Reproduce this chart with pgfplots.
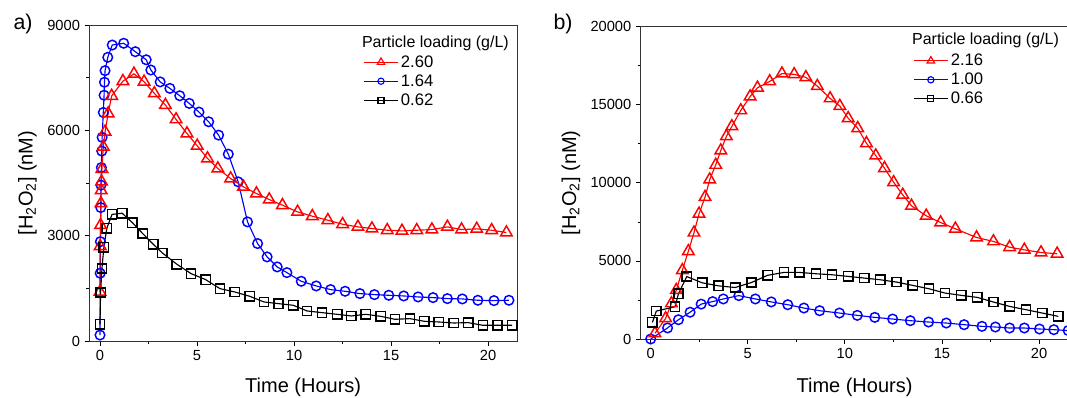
\documentclass[border=0pt]{standalone}
\usepackage{fontspec}
\setmainfont{Liberation Sans}
\usepackage{pgfplots}
\pgfplotsset{compat=1.18}
\pgfplotsset{
  panel/.style={
    scale only axis, anchor=south west,
    tick align=outside, xtick pos=left, ytick pos=left,
    minor x tick num=1, minor y tick num=1,
    major tick length=3.5pt, minor tick length=2.2pt,
    every tick/.style={black, line width=0.6pt},
    axis line style={line width=0.7pt, black!80},
    ticklabel style={font=\fontsize{11}{13}\selectfont},
    /pgf/number format/assume math mode=true,
    /pgf/number format/1000 sep={},
    scaled y ticks=false,
    xlabel style={font=\fontsize{15}{18}\selectfont},
    ylabel style={font=\fontsize{15}{18}\selectfont},
    xtick={0,5,10,15,20},
    legend style={draw=none, fill=none, font=\fontsize{12.5}{14.6}\selectfont,
      inner sep=0pt, row sep=0pt, cells={anchor=west}},
    legend cell align=left,
    legend image code/.code={\draw[mark repeat=2,mark phase=2,#1,mark options={scale=0.65}] plot coordinates {(0pt,0pt) (12.5pt,0pt) (25pt,0pt)};},
  },
  rser/.style={red, line width=0.85pt, mark=triangle, mark size=5pt, mark options={line width=1.1pt, fill=none}},
  bser/.style={blue, line width=0.85pt, mark=o, mark size=3.6pt, mark options={line width=1.1pt}},
  kser/.style={black, line width=0.85pt, mark=square, mark size=3.5pt, mark options={line width=1.1pt}},
}
\begin{document}
\begin{tikzpicture}
\path[use as bounding box] (0,0) rectangle (800.25pt,297.75pt);
\node[font=\fontsize{16}{18}\selectfont] at (17.25pt,280pt) {a)};
\node[font=\fontsize{16}{18}\selectfont] at (422.3pt,280pt) {b)};
% ---------------- panel a
\begin{axis}[panel, at={(67pt,42pt)}, width=320.8pt, height=237pt,
  xmin=-0.55, xmax=21.49, ymin=0, ymax=9000, ytick={0,3000,6000,9000},
  xlabel={Time (Hours)}, ylabel={[H\textsubscript{2}O\textsubscript{2}] (nM)},
  xlabel style={at={(axis description cs:0.5,-0.1456)}, anchor=center},
  ylabel style={at={(axis description cs:-0.1445,0.5)}, anchor=center, rotate=0},
  legend style={at={(axis description cs:0.641,0.913)}, anchor=north west},
]
\addplot[bser, forget plot] coordinates {
(0,170) (0.01,1930) (0.02,2830) (0.04,3800) (0.05,4440) (0.07,4940) (0.09,5410)
(0.11,5800) (0.17,6510) (0.21,7000) (0.23,7370) (0.26,7700) (0.4,8080) (0.63,8430)
(1.22,8480) (1.82,8240) (2.38,8010) (2.62,7718) (3.1,7380) (3.6,7195) (4.11,6985)
(4.6,6767) (5.1,6520) (5.6,6244) (6.11,5864) (6.61,5322) (7.12,4533) (7.6,3393)
(8.12,2775) (8.61,2395) (9.13,2110) (9.63,1948) (10.37,1701) (11.14,1568) (11.88,1464)
(12.63,1416) (13.39,1350) (14.14,1321) (14.88,1302) (15.65,1283) (16.39,1255)
(17.16,1236) (17.9,1207) (18.67,1198) (19.47,1160) (20.3,1150) (21.07,1160)};
\addplot[rser, forget plot] coordinates {
(0,1400) (0.01,2700) (0.03,3300) (0.05,3920) (0.06,4290) (0.08,4540) (0.1,4900)
(0.17,5530) (0.26,5960) (0.42,6480) (0.6,6980) (1.18,7400) (1.75,7610) (2.27,7385)
(2.8,7053) (3.37,6720) (3.92,6311) (4.48,5911) (5.01,5560) (5.54,5199) (6.07,4914)
(6.73,4628) (7.39,4391) (8.06,4201) (8.72,4030) (9.4,3868) (10.18,3678) (10.94,3554)
(11.74,3440) (12.5,3326) (13.29,3250) (14.01,3203) (14.8,3155) (15.56,3136)
(16.32,3155) (17.1,3174) (17.9,3250) (18.63,3174) (19.41,3193) (20.18,3155) (20.94,3089)};
\addplot[kser, forget plot] coordinates {
(0,475) (0.03,1380) (0.1,2066) (0.2,2670) (0.35,3210) (0.62,3605) (1.14,3640)
(1.67,3370) (2.2,3060) (2.74,2756) (3.21,2509) (3.96,2186) (4.69,1920) (5.44,1749)
(6.18,1492) (6.94,1397) (7.71,1274) (8.45,1112) (9.2,1064) (9.96,1017) (10.67,855)
(11.44,808) (12.22,760) (12.95,713) (13.69,760) (14.46,703) (15.2,618) (15.97,637)
(16.71,561) (17.46,542) (18.22,513) (18.97,523) (19.73,447) (20.48,447) (21.24,447)};
\addlegendimage{rser}\addlegendentry{2.60}
\addlegendimage{bser}\addlegendentry{1.64}
\addlegendimage{kser}\addlegendentry{0.62}
\node[anchor=west, font=\fontsize{12}{14}\selectfont, inner sep=0pt] at (axis description cs:0.637,0.943) {Particle loading (g/L)};
\end{axis}
% ---------------- panel b
\begin{axis}[panel, at={(480.5pt,43.5pt)}, width=320.8pt, height=234.2pt,
  xmin=-0.515, xmax=21.51, ymin=0, ymax=20000, ytick={0,5000,10000,15000,20000},
  xlabel={Time (Hours)}, ylabel={[H\textsubscript{2}O\textsubscript{2}] (nM)},
  xlabel style={at={(axis description cs:0.5,-0.154)}, anchor=center},
  ylabel style={at={(axis description cs:-0.163,0.5)}, anchor=center, rotate=0},
  legend style={at={(axis description cs:0.6375,0.922)}, anchor=north west},
]
\addplot[bser, forget plot] coordinates {
(0,0) (0.87,710) (1.43,1235) (2.03,1715) (2.6,2235) (3.19,2395) (3.74,2565)
(4.54,2780) (5.39,2565) (6.21,2375) (7.06,2196) (7.89,1983) (8.7,1812) (9.72,1663)
(10.64,1514) (11.54,1386) (12.46,1279) (13.37,1173) (14.31,1087) (15.22,1023)
(16.14,917) (17.06,810) (17.75,768) (18.48,704) (19.24,704) (20.02,640) (20.76,597) (21.5,540)};
\addplot[rser, forget plot] coordinates {
(0.22,360) (0.77,1320) (1.07,2280) (1.32,3130) (1.63,4400) (1.94,5620) (2.23,6810)
(2.49,8020) (2.8,9090) (3.04,10210) (3.35,11150) (3.61,12070) (3.9,12980) (4.18,13620)
(4.64,14640) (5.12,15530) (5.5,16090) (6.13,16500) (6.76,17000) (7.39,16950)
(7.99,16760) (8.58,16200) (9.24,15410) (9.74,14920) (10.17,14140) (10.66,13500)
(11.11,12540) (11.59,11750) (12.04,10940) (12.51,10040) (12.98,9230) (13.43,8530)
(14.19,7890) (14.93,7460) (15.69,7060) (16.78,6500) (17.65,6250) (18.48,5880)
(19.24,5710) (20.1,5540) (20.93,5460)};
\addplot[kser, forget plot] coordinates {
(0.09,1064) (0.29,1788) (1.25,2064) (1.43,2894) (1.86,4000) (2.66,3596) (3.49,3405)
(4.35,3298) (5.19,3618) (6.02,4080) (6.87,4264) (7.66,4264) (8.51,4179) (9.34,4115)
(10.17,4008) (11.0,3902) (11.82,3795) (12.66,3646) (13.49,3433) (14.33,3219)
(15.16,2942) (16.0,2793) (16.82,2665) (17.65,2367) (18.48,2089) (19.33,1876)
(20.16,1663) (20.99,1450)};
\addlegendimage{rser}\addlegendentry{2.16}
\addlegendimage{bser}\addlegendentry{1.00}
\addlegendimage{kser}\addlegendentry{0.66}
\node[anchor=west, font=\fontsize{12}{14}\selectfont, inner sep=0pt] at (axis description cs:0.634,0.955) {Particle loading (g/L)};
\end{axis}
\end{tikzpicture}
\end{document}
